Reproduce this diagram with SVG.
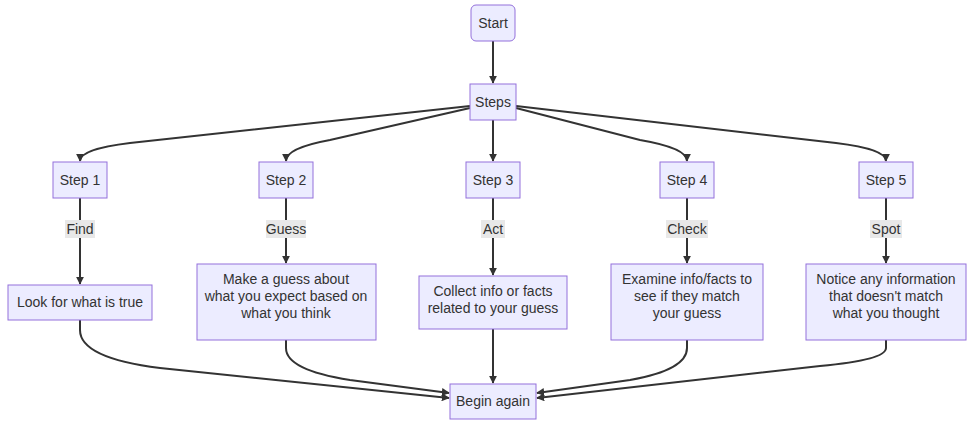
<svg xmlns="http://www.w3.org/2000/svg" width="974" height="427" viewBox="0 0 974 427">
<defs>
<marker id="ah" viewBox="0 0 10 10" refX="9" refY="5" markerWidth="8" markerHeight="8" markerUnits="userSpaceOnUse" orient="auto"><path d="M0,0 L10,5 L0,10 z" fill="#333"/></marker>
<style>
.n{fill:#ECECFF;stroke:#9370DB;stroke-width:1}
text{font-family:"Liberation Sans",Arial,sans-serif;font-size:14px;fill:#333;text-anchor:middle}
.e{fill:none;stroke:#333;stroke-width:2;marker-end:url(#ah)}
.lb{fill:#e8e8e8}
</style>
</defs>
<rect width="974" height="427" fill="#fff"/>
<g id="edges">
<path class="e" d="M493,41 L493,83"/>
<path class="e" d="M470,106 L130,143 Q80,149 80,161"/>
<path class="e" d="M470,108 L330,140 Q286,148 286,161"/>
<path class="e" d="M493,120 L493,161"/>
<path class="e" d="M516,108 L640,140 Q687,148 687,161"/>
<path class="e" d="M516,106 L836,143 Q886,149 886,161"/>
<path class="e" d="M80,198 L80,284"/>
<path class="e" d="M286,198 L286,263"/>
<path class="e" d="M493,198 L493,275"/>
<path class="e" d="M687,198 L687,263"/>
<path class="e" d="M886,198 L886,263"/>
<path class="e" d="M80,320 L80,330 Q80,358 160,368 L449,398"/>
<path class="e" d="M286,340 L286,348 Q286,370 350,380 L449,393"/>
<path class="e" d="M493,329 L493,383"/>
<path class="e" d="M687,340 L687,348 Q687,370 630,380 L537,393"/>
<path class="e" d="M886,340 L886,348 Q886,360 820,366 L537,398"/>
<rect class="lb" x="65" y="220" width="30" height="18"/><text x="80" y="234">Find</text>
<rect class="lb" x="266" y="220" width="40" height="18"/><text x="286" y="234">Guess</text>
<rect class="lb" x="481" y="220" width="24" height="18"/><text x="493" y="234">Act</text>
<rect class="lb" x="666" y="220" width="42" height="18"/><text x="687" y="234">Check</text>
<rect class="lb" x="870" y="220" width="32" height="18"/><text x="886" y="234">Spot</text>
</g>
<g id="start"><rect class="n" x="471" y="5" width="44" height="36" rx="5"/><text x="493" y="28">Start</text></g>
<g id="steps"><rect class="n" x="470" y="84" width="46" height="36"/><text x="493" y="107">Steps</text></g>
<g id="s1"><rect class="n" x="53" y="162" width="54" height="36"/><text x="80" y="185">Step 1</text></g>
<g id="s2"><rect class="n" x="259" y="162" width="54" height="36"/><text x="286" y="185">Step 2</text></g>
<g id="s3"><rect class="n" x="466" y="162" width="54" height="36"/><text x="493" y="185">Step 3</text></g>
<g id="s4"><rect class="n" x="660" y="162" width="54" height="36"/><text x="687" y="185">Step 4</text></g>
<g id="s5"><rect class="n" x="859" y="162" width="54" height="36"/><text x="886" y="185">Step 5</text></g>
<g id="a1"><rect class="n" x="8" y="285" width="144" height="35"/><text x="80" y="307">Look for what is true</text></g>
<g id="a2"><rect class="n" x="197" y="264" width="179" height="76"/><text x="286" y="284">Make a guess about</text><text x="286" y="301">what you expect based on</text><text x="286" y="318">what you think</text></g>
<g id="a3"><rect class="n" x="419" y="276" width="148" height="53"/><text x="493" y="296">Collect info or facts</text><text x="493" y="313">related to your guess</text></g>
<g id="a4"><rect class="n" x="611" y="264" width="152" height="76"/><text x="687" y="284">Examine info/facts to</text><text x="687" y="301">see if they match</text><text x="687" y="318">your guess</text></g>
<g id="a5"><rect class="n" x="806" y="264" width="160" height="76"/><text x="886" y="284">Notice any information</text><text x="886" y="301">that doesn't match</text><text x="886" y="318">what you thought</text></g>
<g id="again"><rect class="n" x="450" y="384" width="86" height="35"/><text x="493" y="406">Begin again</text></g>
</svg>
